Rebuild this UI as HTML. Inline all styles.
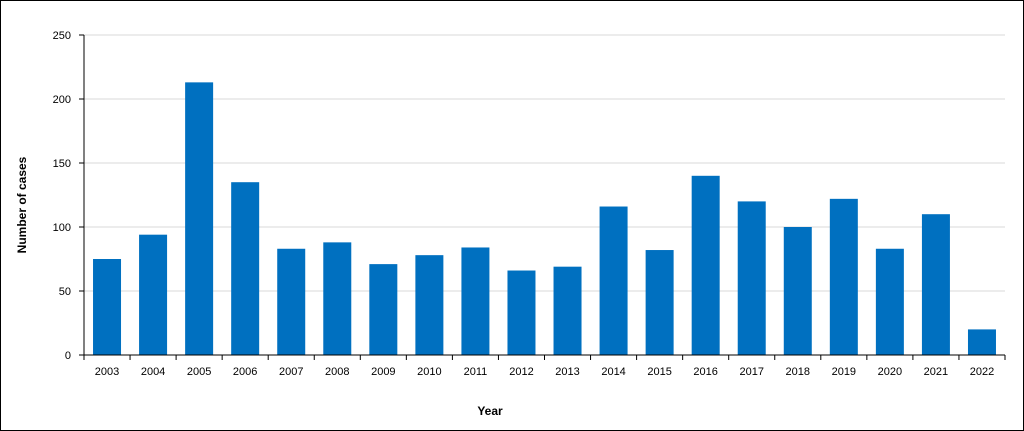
<!DOCTYPE html>
<html><head><meta charset="utf-8"><style>
html,body{margin:0;padding:0;background:#fff}
svg{display:block}
text{font-family:"Liberation Sans",sans-serif;fill:#000}
</style></head><body>
<svg id="chart" width="1024" height="431">
<rect x="0.5" y="0.5" width="1023" height="430" fill="#fff" stroke="#000"/>
<g id="grid"></g><g id="bars"></g><g id="axes"></g>
<text x="26" y="205" transform="rotate(-90 26 205)" text-anchor="middle" font-size="12" font-weight="bold">Number of cases</text>
<text x="490" y="415" text-anchor="middle" font-size="12" font-weight="bold">Year</text>
</svg>
<script>
const categories=["2003","2004","2005","2006","2007","2008","2009","2010","2011","2012","2013","2014","2015","2016","2017","2018","2019","2020","2021","2022"];
const cases=[75,94,213,135,83,88,71,78,84,66,69,116,82,140,120,100,122,83,110,20];
const yTicks=[0,50,100,150,200,250];
const NS="http://www.w3.org/2000/svg";
const L=84,R=1005,T=35,B=355,YMAX=250;
const y=v=>B-(v/YMAX)*(B-T);
const band=(R-L)/categories.length;
const x=i=>L+band*i;
function mk(tag,attrs,parent){const e=document.createElementNS(NS,tag);for(const k in attrs)e.setAttribute(k,attrs[k]);document.getElementById(parent).appendChild(e);return e;}
yTicks.forEach(t=>{
  if(t>0){const g=mk('line',{x1:L,x2:R,y1:y(t),y2:y(t),stroke:'#d9d9d9','stroke-width':1},'grid');
  
  }
  const tk=mk('line',{x1:L-5,x2:L,y1:y(t),y2:y(t),stroke:'#000'},'axes');
  
  
  const lb=mk('text',{x:L-13,y:y(t)+4,'text-anchor':'end','font-size':11},'axes');
  lb.textContent=t;
  
  
});
cases.forEach((v,i)=>{
  const bw=28;
  const r=mk('rect',{x:x(i)+band/2-bw/2,y:y(v),width:bw,height:B-y(v),fill:'#0070c0'},'bars');
  
  
  const lb=mk('text',{x:x(i)+band/2,y:B+20,'text-anchor':'middle','font-size':11},'axes');
  lb.textContent=categories[i];
  
  
});
for(let i=0;i<=categories.length;i++){
  const tk=mk('line',{x1:x(i),x2:x(i),y1:B,y2:B+5,stroke:'#000'},'axes');
  
  
}
const ya=mk('line',{x1:L,x2:L,y1:T,y2:B,stroke:'#000'},'axes');


const xa=mk('line',{x1:L,x2:R,y1:B,y2:B,stroke:'#000'},'axes');


</script>
</body></html>
